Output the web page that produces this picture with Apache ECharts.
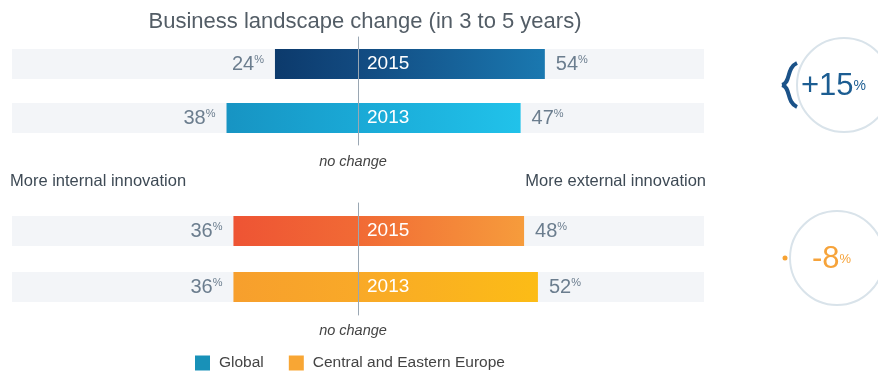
<!DOCTYPE html>
<html>
<head>
<meta charset="utf-8">
<script src="https://cdn.jsdelivr.net/npm/echarts@6/dist/echarts.min.js"></script>
<style>
  html, body { margin: 0; padding: 0; background: #fff; }
  #chart { width: 878px; height: 371px; }
</style>
</head>
<body>
<div id="chart"></div>
<script>
// data
const years = ['2015', '2013'];
const globalInternal = [24, 38];
const globalExternal = [54, 47];
const ceeInternal = [36, 36];
const ceeExternal = [48, 52];
const changeLabels = ['+15', '-8'];

const font = "'Liberation Sans', Arial, sans-serif";

// gradient colours per bar: [left end, middle, right end]
const globalColors = [['#0c3a6c', '#124a80', '#1a78b0'], ['#1794c3', '#1aa9d6', '#21c2ea']];
const ceeColors = [['#ee5434', '#f16a35', '#f69c3c'], ['#f79f2d', '#f9a928', '#fcbc16']];

const grad = (c0, c1) => ({
  type: 'linear', x: 0, y: 0, x2: 1, y2: 0,
  colorStops: [{ offset: 0, color: c0 }, { offset: 1, color: c1 }]
});

const pctLabel = (pos) => ({
  show: true,
  position: pos,
  distance: 11,
  formatter: (p) => '{n|' + Math.abs(p.value) + '}{p|%}',
  rich: {
    n: { fontSize: 20, color: '#6b7d8e', fontFamily: font },
    p: { fontSize: 11, color: '#6b7d8e', fontFamily: font, padding: [0, 0, 9, 0] }
  }
});

const makeSeries = (name, gi, inner, outer, colors) => ([
  {
    name: name,
    type: 'bar',
    xAxisIndex: gi,
    yAxisIndex: gi,
    barWidth: 30,
    barGap: '-100%',
    showBackground: true,
    backgroundStyle: { color: '#f3f5f8' },
    data: inner.map((v, i) => ({ value: -v, itemStyle: { color: grad(colors[i][0], colors[i][1]) } })),
    label: pctLabel('left')
  },
  {
    name: name,
    type: 'bar',
    xAxisIndex: gi,
    yAxisIndex: gi,
    barWidth: 30,
    barGap: '-100%',
    data: outer.map((v, i) => ({ value: v, itemStyle: { color: grad(colors[i][1], colors[i][2]) } })),
    label: pctLabel('right')
  },
  {
    // year labels next to the centre line
    type: 'bar',
    xAxisIndex: gi,
    yAxisIndex: gi,
    barWidth: 30,
    barGap: '-100%',
    silent: true,
    itemStyle: { color: 'rgba(0,0,0,0)' },
    data: outer,
    label: {
      show: true, position: 'insideLeft', distance: 9,
      formatter: (p) => p.name,
      color: '#ffffff', fontSize: 19, fontFamily: font
    }
  }
]);

const makeYAxis = (gi) => ({
  type: 'category',
  gridIndex: gi,
  data: years,
  inverse: true,
  z: 10,
  axisLine: { onZero: true, lineStyle: { color: '#9aa7b3', width: 1 } },
  axisTick: { show: false },
  axisLabel: { show: false }
});

const makeXAxis = (gi) => ({
  type: 'value', gridIndex: gi, min: -100, max: 100, show: false
});

const chart = echarts.init(document.getElementById('chart'));

chart.setOption({
  animation: false,
  backgroundColor: '#ffffff',
  title: {
    text: 'Business landscape change (in 3 to 5 years)',
    left: 360,
    textAlign: 'center',
    top: 6,
    textStyle: { fontSize: 22, fontWeight: 'normal', color: '#535d66', fontFamily: font }
  },
  legend: {
    left: 190,
    top: 350,
    itemWidth: 15,
    itemHeight: 15,
    itemGap: 25,
    icon: 'rect',
    textStyle: { fontSize: 15.5, color: '#444', fontFamily: font, padding: [0, 0, 0, 4] },
    data: [
      { name: 'Global', itemStyle: { color: '#1891b8' } },
      { name: 'Central and Eastern Europe', itemStyle: { color: '#f8a634' } }
    ]
  },
  grid: [
    { left: 12, right: 174, top: 37, height: 108 },
    { left: 12, right: 174, top: 203, height: 112 }
  ],
  xAxis: [makeXAxis(0), makeXAxis(1)],
  yAxis: [makeYAxis(0), makeYAxis(1)],
  series: [
    ...makeSeries('Global', 0, globalInternal, globalExternal, globalColors),
    ...makeSeries('Central and Eastern Europe', 1, ceeInternal, ceeExternal, ceeColors)
  ],
  graphic: [
    { type: 'text', x: 10, y: 181, style: { text: 'More internal innovation', fontSize: 16.5, fill: '#3e4a55', fontFamily: font, verticalAlign: 'middle' } },
    { type: 'text', x: 706, y: 181, style: { text: 'More external innovation', fontSize: 16.5, fill: '#3e4a55', fontFamily: font, align: 'right', verticalAlign: 'middle' } },
    { type: 'text', x: 353, y: 162, style: { text: 'no change', fontSize: 14.5, fontStyle: 'italic', fill: '#444', fontFamily: font, align: 'center', verticalAlign: 'middle' } },
    { type: 'text', x: 353, y: 331, style: { text: 'no change', fontSize: 14.5, fontStyle: 'italic', fill: '#444', fontFamily: font, align: 'center', verticalAlign: 'middle' } },
    // change indicators
    { type: 'circle', shape: { cx: 844, cy: 85, r: 47 }, style: { fill: 'none', stroke: '#d9e3ea', lineWidth: 2 } },
    { type: 'circle', shape: { cx: 837, cy: 258, r: 47 }, style: { fill: 'none', stroke: '#d9e3ea', lineWidth: 2 } },
    { type: 'bezierCurve', shape: { x1: 797, y1: 63, cpx1: 786, cpy1: 68, cpx2: 791, cpy2: 83, x2: 782, y2: 85 }, style: { fill: 'none', stroke: '#1b5288', lineWidth: 4 } },
    { type: 'bezierCurve', shape: { x1: 782, y1: 85, cpx1: 791, cpy1: 87, cpx2: 786, cpy2: 102, x2: 797, y2: 107 }, style: { fill: 'none', stroke: '#1b5288', lineWidth: 4 } },
    { type: 'circle', shape: { cx: 785, cy: 258, r: 2.5 }, style: { fill: '#f7a232' } },
    {
      type: 'text', x: 801, y: 86,
      style: {
        text: '{n|' + changeLabels[0] + '}{p|%}', verticalAlign: 'middle',
        rich: {
          n: { fontSize: 31, fill: '#1c5d92', fontFamily: font },
          p: { fontSize: 14, fill: '#1c5d92', fontFamily: font }
        }
      }
    },
    {
      type: 'text', x: 812, y: 259,
      style: {
        text: '{n|' + changeLabels[1] + '}{p|%}', verticalAlign: 'middle',
        rich: {
          n: { fontSize: 31, fill: '#f6a33a', fontFamily: font },
          p: { fontSize: 13, fill: '#f6a33a', fontFamily: font }
        }
      }
    }
  ]
});
</script>
</body>
</html>
